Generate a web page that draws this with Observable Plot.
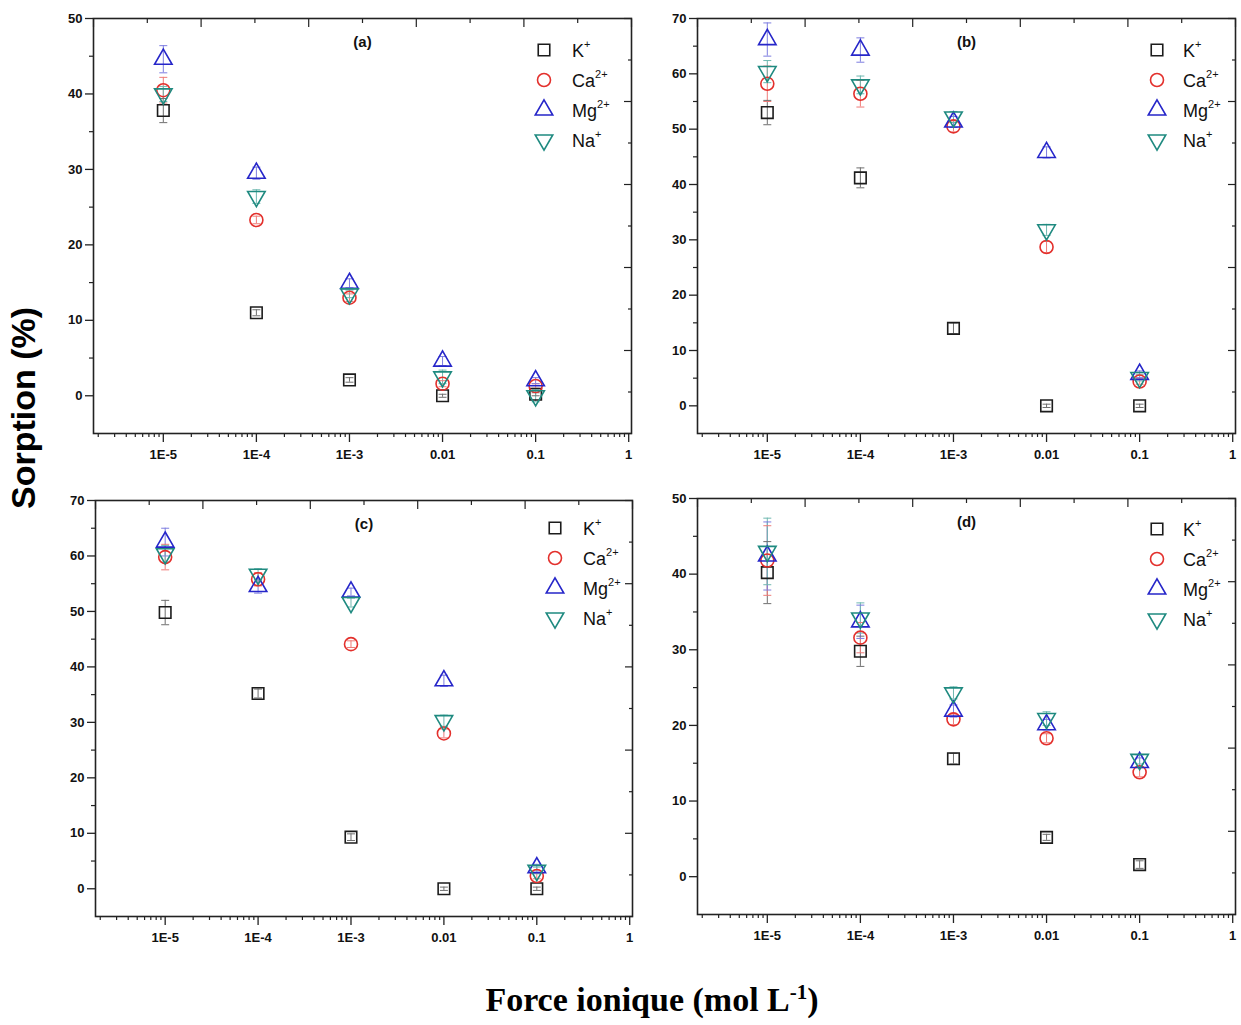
<!DOCTYPE html>
<html><head><meta charset="utf-8">
<script src="https://cdn.jsdelivr.net/npm/d3@7"></script>
<script src="https://cdn.jsdelivr.net/npm/@observablehq/plot@0.6"></script>
<style>
body{margin:0;background:#fff;}
#root{position:relative;width:1241px;height:1025px;overflow:hidden;background:#fff;font-family:"Liberation Sans",Arial,sans-serif;}
.panel{position:absolute;}
.leg{position:absolute;font-size:18px;color:#111;line-height:1;white-space:nowrap;}
.leg sup{font-size:11px;position:relative;top:-2px;}
.ylab{position:absolute;left:6px;top:408px;transform:rotate(-90deg);transform-origin:0 0;font:bold 34px "Liberation Sans",Arial,sans-serif;color:#000;white-space:nowrap;line-height:1.1;}
.xlab{position:absolute;left:0;width:1304px;top:981px;text-align:center;font:bold 34px "Liberation Serif","Times New Roman",serif;color:#000;white-space:nowrap;line-height:1.1;}
.xlab sup{font-size:21px;}
</style></head><body><div id="root"></div>
<script>
// ---------- data ----------
const concentrations = [1e-5, 1e-4, 1e-3, 0.01, 0.1];
const xTickValues = [1e-5, 1e-4, 1e-3, 0.01, 0.1, 1];
const xTickLabels = ["1E-5", "1E-4", "1E-3", "0.01", "0.1", "1"];
const ionNames = ["K", "Ca", "Mg", "Na"];
const ionCharges = ["+", "2+", "2+", "+"];
const ionColors = ["#1c1c1c", "#e3302c", "#2626c9", "#1f8a80"];
const ionErrColors = ["#6f6f6f", "#ef7b78", "#7d7de0", "#6fb8b0"];
const ionSymbols = ["square", "circle", "triangle", "triangle"];
const ionRotations = [0, 0, 0, 180];
const panelLabels = ["(a)", "(b)", "(c)", "(d)"];
const panelYMax = [50, 70, 70, 50];

// panel (a)
const aK  = [37.8, 11.0, 2.1, 0.0, 0.2];
const aCa = [40.5, 23.3, 13.0, 1.6, 1.3];
const aMg = [44.6, 29.5, 14.9, 4.6, 2.0];
const aNa = [40.0, 26.4, 13.5, 2.5, 0.0];
const aKerr  = [1.6, 0.4, 0.3, 0.2, 0.2];
const aCaerr = [1.7, 0.5, 0.5, 0.4, 0.3];
const aMgerr = [1.8, 0.8, 0.6, 0.6, 0.4];
const aNaerr = [1.0, 0.9, 0.5, 0.9, 0.8];
// panel (b)
const bK  = [53.0, 41.2, 14.0, 0.0, 0.0];
const bCa = [58.2, 56.4, 50.5, 28.7, 4.4];
const bMg = [66.2, 64.3, 51.3, 45.8, 5.7];
const bNa = [60.4, 58.0, 52.2, 31.8, 5.1];
const bKerr  = [2.2, 1.8, 1.0, 0.3, 0.3];
const bCaerr = [3.2, 2.4, 1.0, 1.0, 0.5];
const bMgerr = [3.0, 2.2, 1.0, 1.0, 0.6];
const bNaerr = [2.0, 1.6, 1.0, 1.0, 0.6];
// panel (c)
const cK  = [49.8, 35.2, 9.3, 0.0, 0.0];
const cCa = [59.8, 55.8, 44.1, 28.0, 2.3];
const cMg = [62.5, 54.5, 53.5, 37.5, 3.8];
const cNa = [60.4, 56.7, 51.6, 30.3, 3.3];
const cKerr  = [2.2, 0.8, 0.6, 0.3, 0.3];
const cCaerr = [2.3, 1.2, 0.6, 0.8, 0.5];
const cMgerr = [2.5, 1.2, 0.7, 1.0, 0.6];
const cNaerr = [1.5, 1.0, 0.8, 1.0, 0.6];
// panel (d)
const dK  = [40.2, 29.8, 15.6, 5.2, 1.6];
const dCa = [41.8, 31.6, 20.8, 18.3, 13.8];
const dMg = [42.4, 33.7, 21.9, 20.1, 15.1];
const dNa = [43.0, 34.2, 24.3, 20.9, 15.5];
const dKerr  = [4.1, 2.0, 0.7, 0.4, 0.5];
const dCaerr = [4.6, 2.0, 0.7, 0.6, 0.6];
const dMgerr = [4.5, 2.2, 0.8, 0.7, 0.6];
const dNaerr = [4.4, 2.0, 0.8, 0.9, 0.6];

const panelValues = [[aK, aCa, aMg, aNa], [bK, bCa, bMg, bNa], [cK, cCa, cMg, cNa], [dK, dCa, dMg, dNa]];
const panelErrors = [[aKerr, aCaerr, aMgerr, aNaerr], [bKerr, bCaerr, bMgerr, bNaerr], [cKerr, cCaerr, cMgerr, cNaerr], [dKerr, dCaerr, dMgerr, dNaerr]];

// ---------- layout ----------
const layouts = [
  {left: 33,  top: 0,   width: 610, height: 470, mt: 18, mb: 37, ml: 60, mr: 12, leg: {x: 544, y: 50, tx: 572}},
  {left: 637, top: 0,   width: 604, height: 470, mt: 18, mb: 37, ml: 60, mr: 6,  leg: {x: 1157, y: 50, tx: 1183}},
  {left: 35,  top: 482, width: 609, height: 470, mt: 18, mb: 36, ml: 60, mr: 12, leg: {x: 555, y: 528, tx: 583}},
  {left: 637, top: 480, width: 604, height: 470, mt: 18, mb: 36, ml: 60, mr: 6,  leg: {x: 1157, y: 529, tx: 1183}}
];
const lx0 = -5.75, lx1 = 0.03;
const xDomain = [10 ** lx0, 10 ** lx1];
const markerR = 6.5;

const root = document.getElementById("root");
const labelMap = new Map(xTickValues.map((v, i) => [v, xTickLabels[i]]));
const minorX = [];
for (let e = -6; e <= -1; e++) for (let m = 2; m <= 9; m++) {
  const v = m * 10 ** e;
  if (v > xDomain[0] && v < xDomain[1]) minorX.push(v);
}
const capSymbol = {draw(ctx) { ctx.moveTo(-4, 0); ctx.lineTo(4, 0); }};

panelValues.forEach((series, p) => {
  const L = layouts[p];
  const ymax = panelYMax[p];
  const yDomain = [-5, ymax];
  const rows = [];
  series.forEach((vals, s) => vals.forEach((v, i) => rows.push({
    x: concentrations[i], y: v, e: panelErrors[p][s][i], s
  })));
  const yMajor = d3.range(0, ymax + 1, 10);
  const yMinor = d3.range(5, ymax, 10);
  const topVals = d3.range(11).map(k => 10 ** (lx0 + k * (lx1 - lx0) / 10));
  const rightVals = d3.range(11).map(k => yDomain[0] + k * (yDomain[1] - yDomain[0]) / 10);
  const even = (a) => a.filter((_, k) => k % 2 === 0);
  const odd = (a) => a.filter((_, k) => k % 2 === 1);

  const marks = [];
  // error bars
  marks.push(Plot.ruleX(rows, {x: "x", y1: d => d.y - d.e, y2: d => d.y + d.e, stroke: d => ionErrColors[d.s], strokeWidth: 1}));
  marks.push(Plot.dot(rows, {x: "x", y: d => d.y + d.e, symbol: () => capSymbol, stroke: d => ionErrColors[d.s], strokeWidth: 1, r: 3}));
  marks.push(Plot.dot(rows, {x: "x", y: d => d.y - d.e, symbol: () => capSymbol, stroke: d => ionErrColors[d.s], strokeWidth: 1, r: 3}));
  // markers
  marks.push(Plot.dot(rows, {
    x: "x", y: "y",
    symbol: d => ionSymbols[d.s],
    rotate: d => ionRotations[d.s],
    stroke: d => ionColors[d.s],
    fill: "none", strokeWidth: 1.6, r: markerR
  }));
  // axes
  marks.push(Plot.axisX(xTickValues, {tickSize: 9, tickPadding: 7, tickFormat: d => labelMap.get(d), fontSize: 13, fontWeight: "bold", stroke: "#222", strokeWidth: 1.3}));
  marks.push(Plot.axisX(minorX, {tickSize: 4, tickFormat: () => "", stroke: "#222", strokeWidth: 1.2}));
  marks.push(Plot.axisX(even(topVals), {anchor: "top", tickSize: -8, tickFormat: () => "", stroke: "#222", strokeWidth: 1.2}));
  marks.push(Plot.axisX(odd(topVals), {anchor: "top", tickSize: -4, tickFormat: () => "", stroke: "#222", strokeWidth: 1.2}));
  marks.push(Plot.axisY(yMajor, {tickSize: 8, tickPadding: 3, fontSize: 13, fontWeight: "bold", stroke: "#222", strokeWidth: 1.3}));
  marks.push(Plot.axisY(yMinor, {tickSize: 4, tickFormat: () => "", stroke: "#222", strokeWidth: 1.2}));
  marks.push(Plot.axisY(even(rightVals), {anchor: "right", tickSize: -8, tickFormat: () => "", stroke: "#222", strokeWidth: 1.2}));
  marks.push(Plot.axisY(odd(rightVals), {anchor: "right", tickSize: -4, tickFormat: () => "", stroke: "#222", strokeWidth: 1.2}));
  marks.push(Plot.frame({stroke: "#222", strokeWidth: 1.6}));
  marks.push(Plot.text([panelLabels[p]], {frameAnchor: "top", lineAnchor: "middle", dy: 24, text: d => d, fontSize: 15, fontWeight: "bold", fill: "#111"}));

  const chart = Plot.plot({
    width: L.width, height: L.height,
    marginTop: L.mt, marginBottom: L.mb, marginLeft: L.ml, marginRight: L.mr,
    x: {type: "log", domain: xDomain, label: null},
    y: {domain: yDomain, label: null},
    style: {fontFamily: "'Liberation Sans', Arial, sans-serif", fontSize: "13px", color: "#111", background: "transparent", overflow: "visible"},
    marks
  });
  chart.classList.add("panel");
  chart.style.left = L.left + "px";
  chart.style.top = L.top + "px";
  root.appendChild(chart);

  // legend
  ionNames.forEach((name, s) => {
    const cy = L.leg.y + s * 30;
    const svg = d3.create("svg").attr("width", 20).attr("height", 20)
      .style("position", "absolute").style("left", (L.leg.x - 10) + "px").style("top", (cy - 10) + "px").style("overflow", "visible");
    const sym = {square: d3.symbolSquare, circle: d3.symbolCircle, triangle: d3.symbolTriangle}[ionSymbols[s]];
    svg.append("path").attr("d", d3.symbol(sym, markerR * markerR * Math.PI)())
      .attr("transform", `translate(10,10) rotate(${ionRotations[s]})`)
      .attr("fill", "none").attr("stroke", ionColors[s]).attr("stroke-width", 1.6);
    root.appendChild(svg.node());
    const t = document.createElement("div");
    t.className = "leg";
    t.style.left = L.leg.tx + "px";
    t.style.top = (cy - 9) + "px";
    t.innerHTML = `${name}<sup>${ionCharges[s]}</sup>`;
    root.appendChild(t);
  });
});

const yl = document.createElement("div");
yl.className = "ylab";
yl.textContent = "Sorption (%)";
root.appendChild(yl);
const w = yl.getBoundingClientRect().height;
yl.style.top = (408 + w / 2) + "px";
yl.style.left = "5px";

const xl = document.createElement("div");
xl.className = "xlab";
xl.innerHTML = "Force ionique (mol L<sup>-1</sup>)";
root.appendChild(xl);
</script>
</body></html>
